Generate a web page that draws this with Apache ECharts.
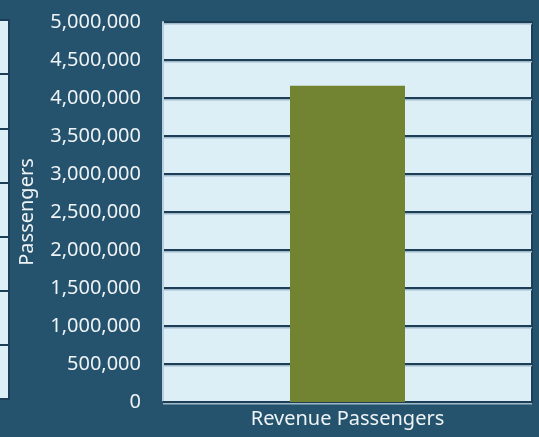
<!DOCTYPE html>
<html>
<head>
<meta charset="utf-8">
<script src="https://cdn.jsdelivr.net/npm/echarts@6/dist/echarts.min.js"></script>
<style>
html,body{margin:0;padding:0;background:#25526d;}
#c{width:539px;height:437px;}
</style>
</head>
<body>
<div id="c"></div>
<script>
var categories = ['Revenue Passengers'];
var passengers = [4160000];
var yAxisName = 'Passengers';
var yMin = 0, yMax = 5000000, yStep = 500000;

function fmt(v){ return String(v).replace(/\B(?=(\d{3})+(?!\d))/g, ','); }

var chart = echarts.init(document.getElementById('c'), null, {renderer:'canvas'});
var dark = '#1c3e57';
var txt = '#eef3f6';
var font = 'Noto Sans';
chart.setOption({
  backgroundColor: '#25526d',
  animation: false,
  grid: [
    {left:163, top:22, right:7, bottom:35, show:true, backgroundColor:'#dceef6', borderColor:dark, borderWidth:2, containLabel:false, outerBoundsMode:'none'},
    {left:-300, top:20, width:309, height:379, show:true, backgroundColor:'#dceef6', borderColor:dark, borderWidth:2, containLabel:false, outerBoundsMode:'none'}
  ],
  xAxis: [
    {type:'category', gridIndex:0, data:categories,
     axisLine:{show:true, lineStyle:{color:dark, width:2}},
     axisTick:{show:false},
     axisLabel:{color:txt, fontFamily:font, fontSize:20, margin:7}},
    {type:'value', gridIndex:1, min:0, max:1, show:false}
  ],
  yAxis: [
    {type:'value', gridIndex:0, min:yMin, max:yMax, interval:yStep,
     name:yAxisName, nameLocation:'middle', nameGap:126,
     nameTextStyle:{color:txt, fontFamily:font, fontSize:20},
     axisLine:{show:true, lineStyle:{color:'#b9d0dd', width:2}},
     axisTick:{show:false},
     axisLabel:{color:txt, fontFamily:font, fontSize:20, margin:22, formatter:fmt},
     splitLine:{show:true, lineStyle:{color:dark, width:2, shadowColor:'#9fb9c9', shadowOffsetY:1.5, shadowBlur:0}}},
    {type:'value', gridIndex:1, min:0, max:7, interval:1,
     axisLine:{show:false}, axisTick:{show:false}, axisLabel:{show:false},
     splitLine:{show:true, lineStyle:{color:dark, width:2}}}
  ],
  series: [
    {type:'bar', xAxisIndex:0, yAxisIndex:0, data:passengers, barWidth:115,
     itemStyle:{color:'#728331'}}
  ]
});
</script>
</body>
</html>
